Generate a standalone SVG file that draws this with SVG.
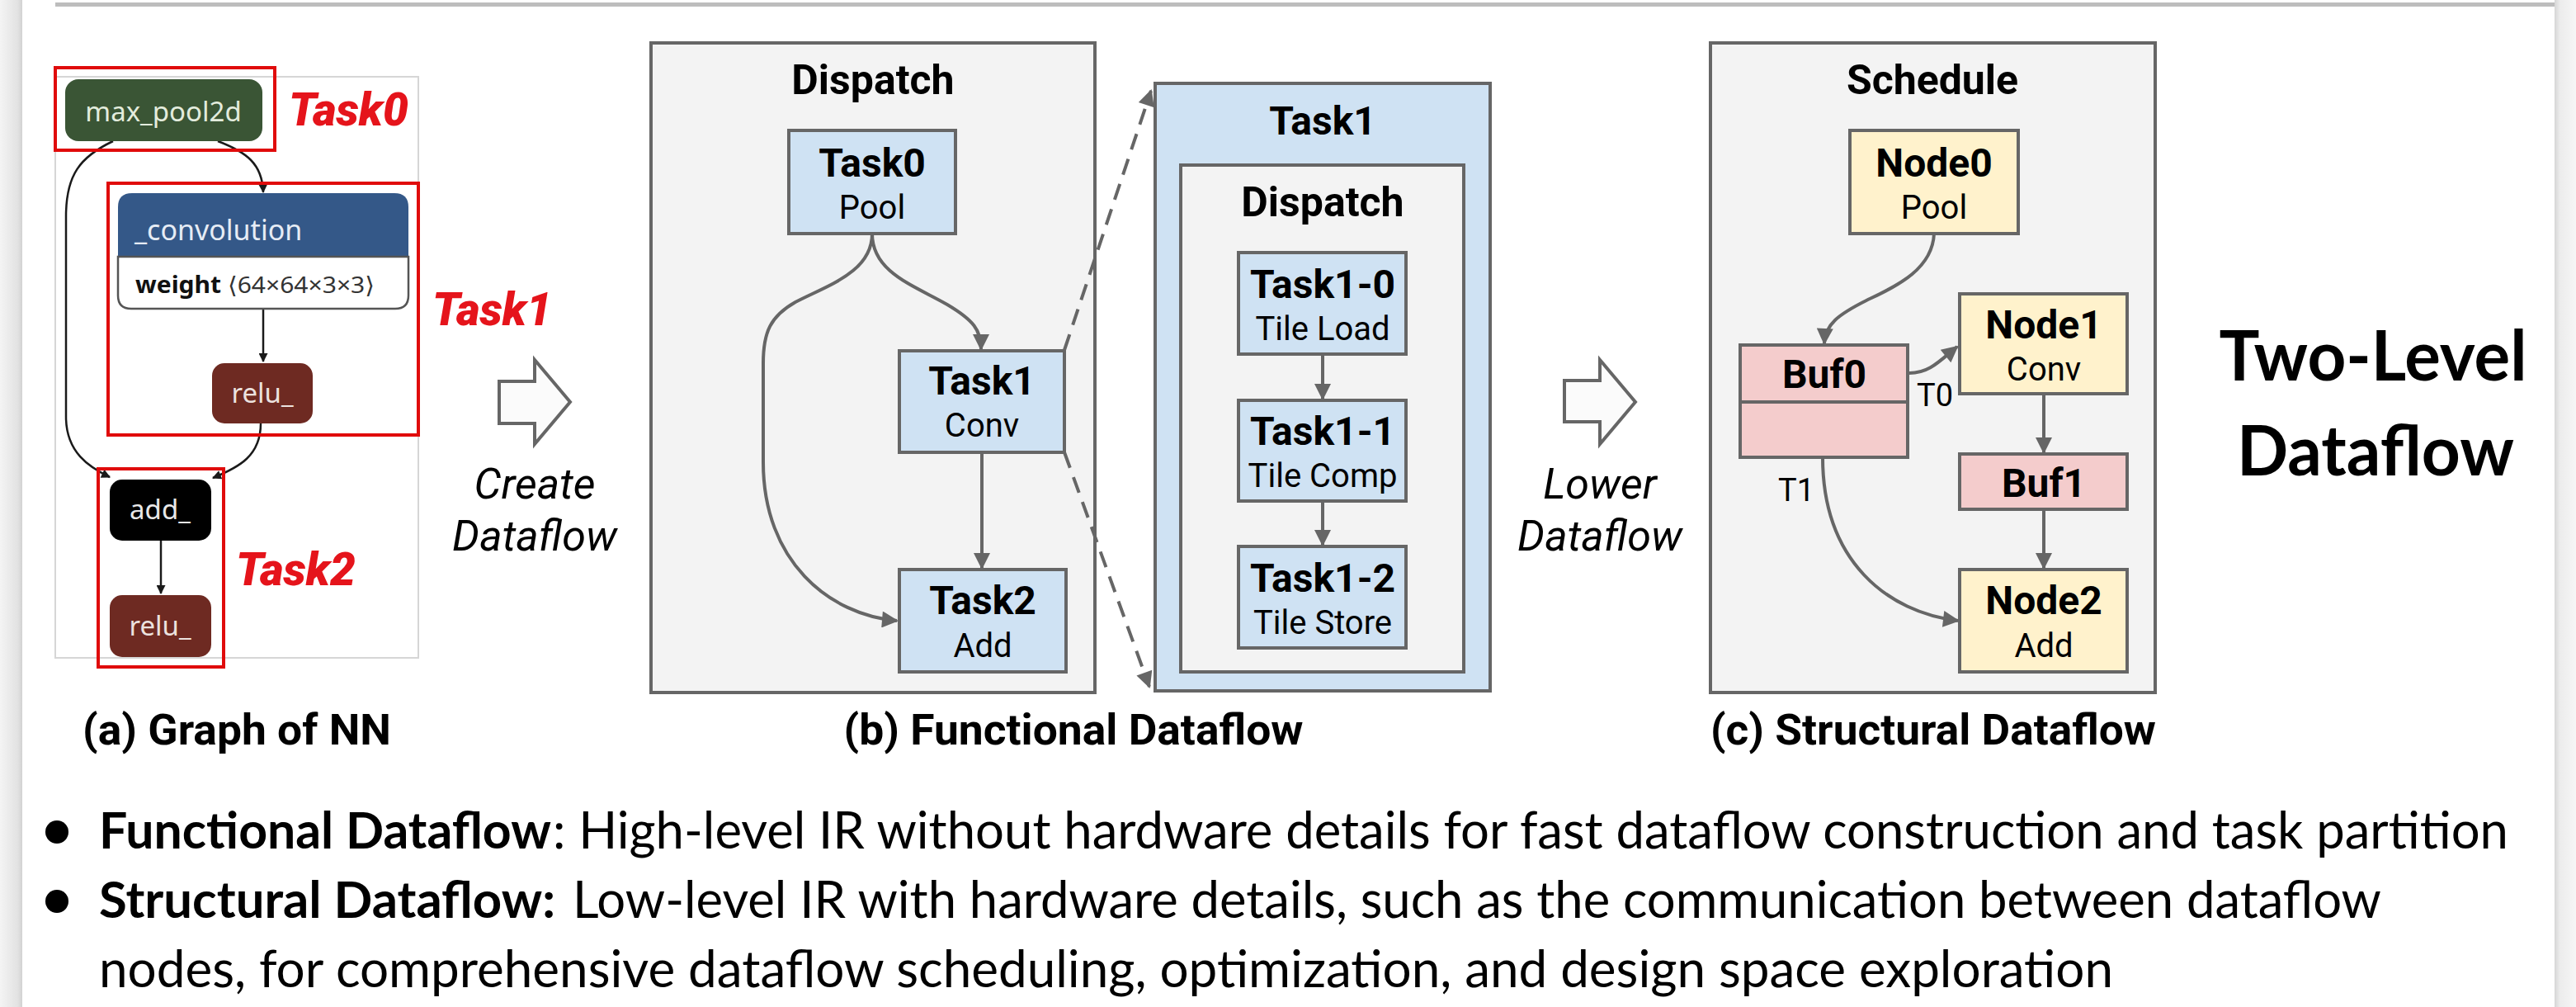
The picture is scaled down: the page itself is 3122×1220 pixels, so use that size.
<svg xmlns="http://www.w3.org/2000/svg" width="3122" height="1220" viewBox="0 0 3122 1220">
  <style>
    .rb { font-family: Roboto, "Liberation Sans", sans-serif; font-weight: 700; fill: #000; text-anchor: middle; }
    .rr { font-family: Roboto, "Liberation Sans", sans-serif; font-weight: 400; fill: #000; text-anchor: middle; }
    .ri { font-family: Roboto, "Liberation Sans", sans-serif; font-style: italic; font-size: 52px; fill: #000; text-anchor: middle; }
    .red { font-family: Roboto, "Liberation Sans", sans-serif; font-weight: 900; font-style: italic; font-size: 55px; fill: #e5141b; }
    .nn { font-family: "Noto Sans", "Open Sans", sans-serif; font-size: 33px; text-anchor: middle; }
    .cap { font-family: Roboto, "Liberation Sans", sans-serif; font-weight: 700; font-size: 52px; fill: #000; text-anchor: middle; }
    .bul { font-family: Lato, "Open Sans", sans-serif; font-size: 62px; fill: #000; }
    .box { fill: #f3f3f3; stroke: #666; stroke-width: 4; }
    .blue { fill: #cfe2f3; stroke: #666; stroke-width: 4; }
    .yel { fill: #fff2cc; stroke: #666; stroke-width: 4; }
    .pink { fill: #f4cccc; stroke: #666; stroke-width: 4; }
    .redbox { fill: none; stroke: #e00b0b; stroke-width: 4; }
    .edge { fill: none; stroke: #666; stroke-width: 4; }
    .dash { fill: none; stroke: #666; stroke-width: 4; stroke-dasharray: 20 12; }
    .nnedge { fill: none; stroke: #1a1a1a; stroke-width: 2.5; }
    .hollow { fill: #fbfbfb; stroke: #666; stroke-width: 4; stroke-linejoin: miter; }
  </style>
  <defs>
    <marker id="ah" viewBox="0 0 10 10" refX="9" refY="5" markerWidth="24" markerHeight="20" markerUnits="userSpaceOnUse" orient="auto">
      <path d="M0,0 L10,5 L0,10 z" fill="#666"/>
    </marker>
    <marker id="ahk" viewBox="0 0 10 10" refX="9" refY="5" markerWidth="13" markerHeight="11" markerUnits="userSpaceOnUse" orient="auto">
      <path d="M0,0 L10,5 L0,10 z" fill="#1a1a1a"/>
    </marker>
    <linearGradient id="sideL" x1="0" y1="0" x2="1" y2="0">
      <stop offset="0" stop-color="#f4f4f4"/>
      <stop offset="0.8" stop-color="#e2e2e2"/>
      <stop offset="1" stop-color="#d2d2d2"/>
    </linearGradient>
    <linearGradient id="sideR" x1="0" y1="0" x2="1" y2="0">
      <stop offset="0" stop-color="#d6d6d6"/>
      <stop offset="0.25" stop-color="#ececec"/>
      <stop offset="1" stop-color="#f6f6f6"/>
    </linearGradient>
  </defs>

  <!-- page frame -->
  <rect x="0" y="0" width="3122" height="1220" fill="#fff"/>
  <rect x="0" y="0" width="27" height="1220" fill="url(#sideL)"/>
  <rect x="3096" y="0" width="26" height="1220" fill="url(#sideR)"/>
  <rect x="67" y="3" width="3029" height="5" fill="#bdbdbd"/>

  <!-- (a) graph of the network -->
  <g id="graph-nn">
    <rect x="67" y="93" width="440" height="704" fill="#fff" stroke="#d6d6d6" stroke-width="2"/>
    <g id="nn-edges">
      <path class="nnedge" d="M137,171 C97,190 80,212 80,262 L80,505 C80,548 108,566 133,578" marker-end="url(#ahk)"/>
      <path class="nnedge" d="M264,171 C298,184 318,198 319,233" marker-end="url(#ahk)"/>
      <path class="nnedge" d="M319,375 L319,438" marker-end="url(#ahk)"/>
      <path class="nnedge" d="M316,513 C316,552 290,566 258,579" marker-end="url(#ahk)"/>
      <path class="nnedge" d="M195,655 L195,719" marker-end="url(#ahk)"/>
    </g>
    <g id="nn-maxpool">
      <rect x="79" y="96" width="239" height="75" rx="16" fill="#3a5535"/>
      <text class="nn" x="198" y="147" fill="#e3ecdd">max_pool2d</text>
    </g>
    <g id="nn-conv">
      <path d="M143,311 L143,251 Q143,234 160,234 L478,234 Q495,234 495,251 L495,311 z" fill="#345888"/>
      <path d="M143,311 L495,311 L495,358 Q495,374 479,374 L159,374 Q143,374 143,358 z" fill="#fff" stroke="#555" stroke-width="2.5"/>
      <text class="nn" x="163" y="291" fill="#e6ecf5" style="font-size:34px;text-anchor:start">_convolution</text>
      <text x="164" y="355" style="font-family:'Noto Sans','DejaVu Sans',sans-serif;font-size:28px" fill="#111" textLength="290" lengthAdjust="spacingAndGlyphs"><tspan font-weight="700">weight</tspan><tspan fill="#333"> ⟨64×64×3×3⟩</tspan></text>
    </g>
    <g id="nn-relu1">
      <rect x="257" y="440" width="122" height="73" rx="15" fill="#6e2a22"/>
      <text class="nn" x="318" y="488" fill="#ece2df">relu_</text>
    </g>
    <g id="nn-add">
      <rect x="133" y="581" width="123" height="74" rx="15" fill="#000"/>
      <text class="nn" x="194" y="629" fill="#e8e8e8">add_</text>
    </g>
    <g id="nn-relu2">
      <rect x="133" y="721" width="123" height="75" rx="15" fill="#6e2a22"/>
      <text class="nn" x="194" y="770" fill="#ece2df">relu_</text>
    </g>
    <g id="task-marks">
      <rect class="redbox" x="67" y="82" width="266" height="100"/>
      <rect class="redbox" x="131" y="222" width="376" height="305"/>
      <rect class="redbox" x="119" y="568" width="152" height="240"/>
      <text class="red" x="350" y="152">Task0</text>
      <text class="red" x="524" y="394">Task1</text>
      <text class="red" x="286" y="709">Task2</text>
    </g>
  </g>

  <!-- Create Dataflow step -->
  <g id="step-create">
    <path class="hollow" d="M605,462 L648,462 L648,436 L691,487 L648,538 L648,513 L605,513 z"/>
    <text class="ri" x="648" y="604">Create</text>
    <text class="ri" x="648" y="667">Dataflow</text>
  </g>

  <!-- (b) functional dataflow -->
  <g id="functional">
    <g id="dispatch-b">
      <rect class="box" x="789" y="52" width="538" height="787"/>
      <text class="rb" x="1058" y="114" font-size="50">Dispatch</text>
    </g>
    <g id="task1-detail">
      <rect class="blue" x="1400" y="101" width="406" height="736"/>
      <text class="rb" x="1603" y="163" font-size="48">Task1</text>
      <rect class="box" x="1431" y="200" width="343" height="614"/>
      <text class="rb" x="1603" y="262" font-size="50">Dispatch</text>
    </g>
    <g id="b-edges">
      <path class="edge" d="M1057,283 C1057,330 1108,346 1148,369 C1180,388 1189,400 1189,423" marker-end="url(#ah)"/>
      <path class="edge" d="M1057,283 C1057,330 1002,346 964,366 C934,383 925,402 925,440 L925,560 C925,680 1005,745 1087,752" marker-end="url(#ah)"/>
      <path class="edge" d="M1190,548 L1190,688" marker-end="url(#ah)"/>
      <path class="edge" d="M1603,429 L1603,483" marker-end="url(#ah)"/>
      <path class="edge" d="M1603,607 L1603,660" marker-end="url(#ah)"/>
      <path class="dash" d="M1290,424 L1395,110" marker-end="url(#ah)"/>
      <path class="dash" d="M1290,548 L1393,832" marker-end="url(#ah)"/>
    </g>
    <g id="task0">
      <rect class="blue" x="956" y="158" width="202" height="125"/>
      <text class="rb" x="1057" y="214" font-size="48">Task0</text>
      <text class="rr" x="1057" y="265" font-size="40">Pool</text>
    </g>
    <g id="task1">
      <rect class="blue" x="1090" y="425" width="200" height="123"/>
      <text class="rb" x="1190" y="478" font-size="48">Task1</text>
      <text class="rr" x="1190" y="529" font-size="40">Conv</text>
    </g>
    <g id="task2">
      <rect class="blue" x="1090" y="690" width="202" height="124"/>
      <text class="rb" x="1191" y="744" font-size="48">Task2</text>
      <text class="rr" x="1191" y="796" font-size="40">Add</text>
    </g>
    <g id="task1-0">
      <rect class="blue" x="1501" y="306" width="203" height="123"/>
      <text class="rb" x="1603" y="361" font-size="48">Task1-0</text>
      <text class="rr" x="1603" y="412" font-size="40">Tile Load</text>
    </g>
    <g id="task1-1">
      <rect class="blue" x="1501" y="485" width="203" height="122"/>
      <text class="rb" x="1603" y="539" font-size="48">Task1-1</text>
      <text class="rr" x="1603" y="590" font-size="40">Tile Comp</text>
    </g>
    <g id="task1-2">
      <rect class="blue" x="1501" y="662" width="203" height="123"/>
      <text class="rb" x="1603" y="717" font-size="48">Task1-2</text>
      <text class="rr" x="1603" y="768" font-size="40">Tile Store</text>
    </g>
  </g>

  <!-- Lower Dataflow step -->
  <g id="step-lower">
    <path class="hollow" d="M1896,461 L1939,461 L1939,436 L1982,487 L1939,538 L1939,511 L1896,511 z"/>
    <text class="ri" x="1939" y="604">Lower</text>
    <text class="ri" x="1939" y="667">Dataflow</text>
  </g>

  <!-- (c) structural dataflow -->
  <g id="structural">
    <g id="schedule">
      <rect class="box" x="2073" y="52" width="539" height="787"/>
      <text class="rb" x="2342" y="114" font-size="50">Schedule</text>
    </g>
    <g id="c-edges">
      <path class="edge" d="M2344,283 C2342,328 2295,348 2262,364 C2228,381 2212,393 2211,416" marker-end="url(#ah)"/>
      <path class="edge" d="M2314,452 C2338,452 2350,438 2372,420" marker-end="url(#ah)"/>
      <path class="edge" d="M2477,477 L2477,548" marker-end="url(#ah)"/>
      <path class="edge" d="M2477,617 L2477,688" marker-end="url(#ah)"/>
      <path class="edge" d="M2209,554 C2209,680 2288,742 2373,752" marker-end="url(#ah)"/>
      <text class="rr" x="2345" y="492" font-size="38">T0</text>
      <text class="rr" x="2177" y="607" font-size="38">T1</text>
    </g>
    <g id="node0">
      <rect class="yel" x="2242" y="158" width="204" height="125"/>
      <text class="rb" x="2344" y="214" font-size="48">Node0</text>
      <text class="rr" x="2344" y="265" font-size="40">Pool</text>
    </g>
    <g id="buf0">
      <rect class="pink" x="2109" y="418" width="203" height="136"/>
      <line x1="2109" y1="487" x2="2312" y2="487" stroke="#666" stroke-width="4"/>
      <text class="rb" x="2211" y="470" font-size="48">Buf0</text>
    </g>
    <g id="node1">
      <rect class="yel" x="2375" y="356" width="203" height="121"/>
      <text class="rb" x="2477" y="410" font-size="48">Node1</text>
      <text class="rr" x="2477" y="461" font-size="40">Conv</text>
    </g>
    <g id="buf1">
      <rect class="pink" x="2375" y="550" width="203" height="67"/>
      <text class="rb" x="2477" y="602" font-size="48">Buf1</text>
    </g>
    <g id="node2">
      <rect class="yel" x="2375" y="690" width="203" height="124"/>
      <text class="rb" x="2477" y="744" font-size="48">Node2</text>
      <text class="rr" x="2477" y="796" font-size="40">Add</text>
    </g>
  </g>

  <!-- headline -->
  <g id="headline">
    <text x="2876" y="461" style="font-family:Lato,'Open Sans',sans-serif;font-weight:700;font-size:84px" text-anchor="middle" textLength="373" lengthAdjust="spacingAndGlyphs">Two-Level</text>
    <text x="2879" y="576" style="font-family:Lato,'Open Sans',sans-serif;font-weight:700;font-size:84px" text-anchor="middle" textLength="336" lengthAdjust="spacingAndGlyphs">Dataflow</text>
  </g>

  <!-- sub-figure captions -->
  <g id="captions">
    <text class="cap" x="287" y="902" textLength="374" lengthAdjust="spacingAndGlyphs">(a) Graph of NN</text>
    <text class="cap" x="1301" y="902" textLength="557" lengthAdjust="spacingAndGlyphs">(b) Functional Dataflow</text>
    <text class="cap" x="2343" y="902" textLength="540" lengthAdjust="spacingAndGlyphs">(c) Structural Dataflow</text>
  </g>

  <!-- bullet notes -->
  <g id="notes">
    <circle cx="69" cy="1008" r="14" fill="#000"/>
    <circle cx="69" cy="1092" r="14" fill="#000"/>
    <text class="bul" x="120" y="1028" font-weight="700" textLength="548" lengthAdjust="spacingAndGlyphs">Functional Dataflow</text>
    <text class="bul" x="670" y="1028" textLength="2370" lengthAdjust="spacingAndGlyphs">: High-level IR without hardware details for fast dataflow construction and task partition</text>
    <text class="bul" x="120" y="1112" font-weight="700" textLength="553" lengthAdjust="spacingAndGlyphs">Structural Dataflow:</text>
    <text class="bul" x="694" y="1112" textLength="2192" lengthAdjust="spacingAndGlyphs">Low-level IR with hardware details, such as the communication between dataflow</text>
    <text class="bul" x="120" y="1196" textLength="2441" lengthAdjust="spacingAndGlyphs">nodes, for comprehensive dataflow scheduling, optimization, and design space exploration</text>
  </g>
</svg>
